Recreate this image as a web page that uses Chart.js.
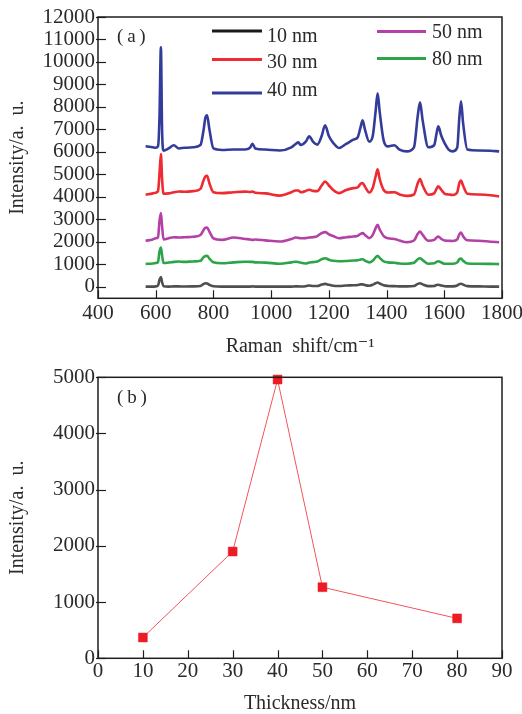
<!DOCTYPE html>
<html><head><meta charset="utf-8">
<script src="https://cdn.jsdelivr.net/npm/chart.js@4/dist/chart.umd.min.js"></script>
<style>
html,body{margin:0;padding:0;background:#fff;width:522px;height:714px;overflow:hidden}
canvas{position:absolute;left:0}
</style></head>
<body>
<canvas id="a" width="522" height="357" style="top:0"></canvas>
<canvas id="b" width="522" height="357" style="top:357px"></canvas>
<script>
// ---------- data (a) ----------
const shift = [565,590,600,608,613,618,622,627,645,663,
  680,700,730,755,765,772,778,786,800,830,
  870,910,928,935,945,980,1030,1070,1085,1094,
  1103,1120,1132,1145,1160,1175,1187,1200,1215,1235,
  1260,1285,1300,1310,1317,1325,1340,1352,1362,1369,
  1376,1390,1405,1427,1445,1470,1495,1508,1516,1525,
  1545,1565,1573,1579,1590,1602,1615,1630,1645,1652,
  1658,1665,1680,1720,1760,1790];
const int10 = [0,0,10,50,300,430,200,20,0,10,
  10,5,10,30,110,150,140,80,20,0,
  0,0,0,10,0,0,0,0,10,10,
  5,20,50,30,30,90,120,80,40,30,
  50,60,70,100,100,70,40,80,150,180,
  140,60,30,20,10,10,30,120,150,100,
  20,30,70,80,50,20,10,10,50,110,
  130,90,20,10,0,0];
const int30 = [4090,4150,4180,4250,5000,5900,4800,4130,4150,4200,
  4235,4220,4250,4350,4700,4900,4935,4600,4200,4160,
  4200,4230,4210,4230,4180,4150,4050,4200,4280,4280,
  4200,4260,4310,4260,4250,4500,4680,4500,4300,4160,
  4300,4385,4420,4580,4610,4450,4190,4400,4900,5220,
  4800,4300,4190,4200,4100,4040,4100,4600,4790,4500,
  4090,4150,4350,4460,4300,4130,4100,4080,4200,4600,
  4725,4500,4130,4100,4070,4010];
const int40 = [6250,6200,6180,6250,7500,10650,7000,6050,6150,6290,
  6150,6180,6200,6300,6900,7500,7620,7000,6150,6080,
  6100,6100,6200,6360,6150,6100,6060,6200,6350,6420,
  6300,6450,6690,6450,6320,6700,7180,6700,6400,6170,
  6350,6540,6650,7100,7400,7000,6450,6700,7800,8600,
  7800,6500,6240,6290,6100,6020,6200,7600,8200,7400,
  6200,6300,6800,7130,6700,6360,6100,6020,6200,7500,
  8250,7300,6100,6060,6050,6020];
const int50 = [2040,2100,2150,2200,2900,3270,2700,2100,2150,2200,
  2185,2200,2220,2300,2500,2620,2630,2450,2150,2080,
  2185,2120,2100,2080,2100,2060,2010,2120,2185,2170,
  2150,2160,2185,2200,2250,2380,2425,2330,2250,2155,
  2200,2230,2260,2350,2380,2300,2160,2300,2600,2750,
  2550,2250,2150,2120,2050,1975,2050,2350,2455,2300,
  2040,2080,2180,2230,2120,2050,2040,2030,2100,2330,
  2410,2250,2060,2040,2000,1975];
const int80 = [1010,1030,1050,1100,1550,1740,1400,1050,1070,1100,
  1115,1100,1120,1150,1300,1360,1370,1250,1080,1040,
  1080,1110,1100,1100,1080,1070,1020,1080,1110,1100,
  1060,1030,1070,1090,1120,1220,1265,1200,1150,1130,
  1140,1160,1170,1210,1220,1160,1080,1150,1300,1370,
  1280,1120,1080,1060,1030,1020,1060,1220,1265,1180,
  1020,1040,1100,1130,1070,1020,1020,1020,1080,1220,
  1250,1150,1030,1020,1010,1000];
const seriesLabels = ['10 nm','30 nm','40 nm','50 nm','80 nm'];
const xTicksA = [400,600,800,1000,1200,1400,1600,1800];
const yTicksA = [0,1000,2000,3000,4000,5000,6000,7000,8000,9000,10000,11000,12000];

// ---------- data (b) ----------
const thickness = [10,30,40,50,80];
const peakIntensity = [370,1900,4960,1265,710];
const xTicksB = [0,10,20,30,40,50,60,70,80,90];
const yTicksB = [0,1000,2000,3000,4000,5000];

// ---------- styles ----------
const FAM = "'Liberation Serif','DejaVu Serif',serif";
const TXT = '#2a2a2a';
const seriesColors = ['#4f4f4f','#ee2a32','#333c9a','#b442a6','#2ba548'];
const legendColors = ['#1a1a1a','#ee2a32','#333c9a','#b442a6','#2ba548'];
const legendPos = [ // [lineX1, lineX2, lineY, textX, textY]
  [212,262,31,267,37],
  [212,262,59.5,267,63],
  [212,262,93,267,91],
  [377,426,31.5,432,32.5],
  [377,426,58.5,432,59.5]
];

const framePlugin = {
  id:'frame',
  afterDatasetsDraw(chart){
    const {ctx, chartArea:a, scales} = chart;
    ctx.save();
    ctx.strokeStyle = '#1e1e1e';
    ctx.lineWidth = 1.2;
    scales.x.ticks.forEach(t=>{
      const px = Math.round(scales.x.getPixelForValue(t.value))+0.5;
      ctx.beginPath(); ctx.moveTo(px,a.bottom); ctx.lineTo(px,a.bottom-8); ctx.stroke();
    });
    scales.y.ticks.forEach(t=>{
      const py = Math.round(scales.y.getPixelForValue(t.value))+0.5;
      ctx.beginPath(); ctx.moveTo(a.left-2,py); ctx.lineTo(a.left+8,py); ctx.stroke();
    });
    ctx.lineWidth = 1.5;
    ctx.strokeRect(a.left,a.top,a.right-a.left,a.bottom-a.top);
    const lab = chart.options.plugins.frame.label;
    ctx.fillStyle = TXT;
    ctx.font = '19px ' + FAM;
    ctx.textBaseline = 'middle';
    ctx.textAlign = 'left';
    ctx.fillText(lab.text, lab.x, lab.y);
    ctx.restore();
  }
};

const legendPlugin = {
  id:'legendBox',
  afterDraw(chart){
    const ctx = chart.ctx;
    ctx.save();
    chart.data.datasets.forEach((ds,i)=>{
      const p = legendPos[i];
      ctx.strokeStyle = legendColors[i];
      ctx.lineWidth = 3;
      ctx.beginPath(); ctx.moveTo(p[0],p[2]); ctx.lineTo(p[1],p[2]); ctx.stroke();
      ctx.fillStyle = TXT;
      ctx.font = '20px ' + FAM;
      ctx.textBaseline = 'middle';
      ctx.textAlign = 'left';
      ctx.fillText(ds.label, p[3], p[4]);
    });
    ctx.restore();
  }
};

function tickFont(){ return {family:FAM, size:21, lineHeight:1}; }
function titleFont(){ return {family:FAM, size:20, lineHeight:1}; }
const plain = v => String(v);

// ---------- chart (a) ----------
const seriesVals = [int10,int30,int40,int50,int80];
new Chart(document.getElementById('a'), {
  type:'line',
  data:{
    datasets: seriesLabels.map((l,i)=>({
      label:l,
      data: shift.map((x,j)=>({x:x, y:seriesVals[i][j]})),
      borderColor: seriesColors[i],
      borderWidth: 2.6,
      pointRadius: 0,
      cubicInterpolationMode:'monotone',
      fill:false
    }))
  },
  options:{
    responsive:false, animation:false, devicePixelRatio:1,
    layout:{padding:{top:17,right:20,bottom:0,left:0}},
    plugins:{legend:{display:false}, tooltip:{enabled:false},
      frame:{label:{text:'(\u2009a\u2009)', x:117, y:37}}},
    scales:{
      x:{type:'linear', min:400, max:1800,
        afterBuildTicks:s=>{s.ticks = xTicksA.map(v=>({value:v}));},
        afterFit:s=>{s.height=58.7; s.paddingLeft=0; s.paddingRight=0;},
        grid:{display:false, drawTicks:false}, border:{display:false},
        ticks:{autoSkip:false, maxRotation:0, padding:4.5, color:TXT, font:tickFont(), callback:plain},
        title:{display:true, text:'Raman  shift/cm\u207B\u00B9', color:TXT, font:titleFont(), padding:{top:0,bottom:0}}
      },
      y:{type:'linear', min:-520, max:12000,
        afterBuildTicks:s=>{s.ticks = yTicksA.map(v=>({value:v}));},
        afterFit:s=>{s.width=98; s.paddingTop=0; s.paddingBottom=0;},
        grid:{display:false, drawTicks:false}, border:{display:false},
        ticks:{autoSkip:false, padding:3, color:TXT, font:tickFont(), callback:plain},
        title:{display:true, text:'Intensity/a.  u.', color:TXT, font:titleFont(), padding:{top:8,bottom:0}}
      }
    }
  },
  plugins:[framePlugin, legendPlugin]
});

// ---------- chart (b) ----------
new Chart(document.getElementById('b'), {
  type:'line',
  data:{
    datasets:[{
      label:'Intensity',
      data: thickness.map((x,j)=>({x:x, y:peakIntensity[j]})),
      borderColor:'#f0555a',
      borderWidth:1,
      pointStyle:'rect',
      pointRadius:6.3,
      pointBackgroundColor:'#ec1c24',
      pointBorderColor:'#ec1c24',
      pointBorderWidth:0.5,
      tension:0,
      fill:false,
      clip:false
    }]
  },
  options:{
    responsive:false, animation:false, devicePixelRatio:1,
    layout:{padding:{top:20.3,right:20,bottom:0,left:0}},
    plugins:{legend:{display:false}, tooltip:{enabled:false},
      frame:{label:{text:'(\u2009b\u2009)', x:117, y:40.7}}},
    scales:{
      x:{type:'linear', min:0, max:90,
        afterBuildTicks:s=>{s.ticks = xTicksB.map(v=>({value:v}));},
        afterFit:s=>{s.height=55.7; s.paddingLeft=0; s.paddingRight=0;},
        grid:{display:false, drawTicks:false}, border:{display:false},
        ticks:{autoSkip:false, maxRotation:0, padding:3, color:TXT, font:tickFont(), callback:plain},
        title:{display:true, text:'Thickness/nm', color:TXT, font:titleFont(), padding:{top:0,bottom:0}}
      },
      y:{type:'linear', min:0, max:5000,
        afterBuildTicks:s=>{s.ticks = yTicksB.map(v=>({value:v}));},
        afterFit:s=>{s.width=98; s.paddingTop=0; s.paddingBottom=0;},
        grid:{display:false, drawTicks:false}, border:{display:false},
        ticks:{autoSkip:false, padding:3, color:TXT, font:tickFont(), callback:plain},
        title:{display:true, text:'Intensity/a.  u.', color:TXT, font:titleFont(), padding:{top:8,bottom:0}}
      }
    }
  },
  plugins:[framePlugin]
});
</script>
</body></html>
